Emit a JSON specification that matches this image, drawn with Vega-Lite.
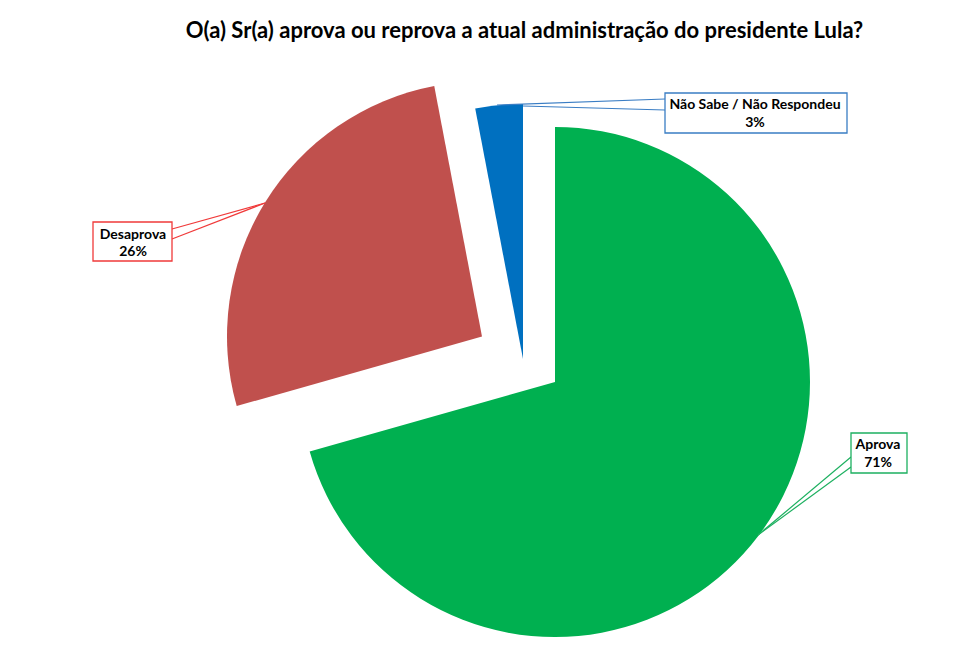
{
  "$schema": "https://vega.github.io/schema/vega-lite/v6.json",
  "width": 977,
  "height": 606,
  "autosize": {"type": "none"},
  "padding": {"top": 60, "left": 0, "right": 0, "bottom": 0},
  "background": "white",
  "config": {"view": {"stroke": null}},
  "title": {
    "text": "O(a) Sr(a) aprova ou reprova a atual administração do presidente Lula?",
    "font": "Lato", "fontSize": 22, "fontWeight": "bold", "color": "#000000",
    "anchor": "middle", "dx": 36, "offset": 17
  },
  "data": {"values": [
    {"answer": "Aprova", "share": 0.706},
    {"answer": "Desaprova", "share": 0.264},
    {"answer": "Não Sabe / Não Respondeu", "share": 0.03}
  ]},
  "transform": [
    {"stack": "share", "groupby": [], "sort": [{"field": "answer", "order": "ascending"}], "as": ["s0", "s1"]}
  ],
  "layer": [
    {
      "transform": [{"filter": "datum.answer == 'Aprova'"}],
      "mark": {"type": "arc", "radius": 255},
      "encoding": {
        "theta": {"field": "s0", "type": "quantitative", "scale": {"domain": [0, 1]}},
        "theta2": {"field": "s1"},
        "color": {"field": "answer", "type": "nominal", "scale": {"domain": ["Aprova", "Desaprova", "Não Sabe / Não Respondeu"], "range": ["#00B050", "#C0504D", "#0070C0"]}, "legend": null},
        "x": {"datum": 0, "type": "quantitative", "scale": {"domain": [-2.17647, 1.6549], "nice": false, "zero": false}, "axis": null},
        "y": {"datum": 0, "type": "quantitative", "scale": {"domain": [-1.11373, 1.26275], "nice": false, "zero": false}, "axis": null}
      }
    },
    {
      "transform": [{"filter": "datum.answer == 'Desaprova'"}],
      "mark": {"type": "arc", "radius": 255},
      "encoding": {
        "theta": {"field": "s0", "type": "quantitative", "scale": {"domain": [0, 1]}},
        "theta2": {"field": "s1"},
        "color": {"field": "answer", "type": "nominal", "legend": null},
        "x": {"datum": -0.28627, "type": "quantitative", "scale": {"domain": [-2.17647, 1.6549], "nice": false, "zero": false}, "axis": null},
        "y": {"datum": 0.17843, "type": "quantitative", "scale": {"domain": [-1.11373, 1.26275], "nice": false, "zero": false}, "axis": null}
      }
    },
    {
      "transform": [{"filter": "datum.answer == 'Não Sabe / Não Respondeu'"}],
      "mark": {"type": "arc", "radius": 255},
      "encoding": {
        "theta": {"field": "s0", "type": "quantitative", "scale": {"domain": [0, 1]}},
        "theta2": {"field": "s1"},
        "color": {"field": "answer", "type": "nominal", "legend": null},
        "x": {"datum": -0.12549, "type": "quantitative", "scale": {"domain": [-2.17647, 1.6549], "nice": false, "zero": false}, "axis": null},
        "y": {"datum": 0.0902, "type": "quantitative", "scale": {"domain": [-1.11373, 1.26275], "nice": false, "zero": false}, "axis": null}
      }
    },
    {
      "transform": [{"filter": "datum.answer == 'Não Sabe / Não Respondeu'"}],
      "mark": {"type": "rule", "color": "#3A7DC4", "strokeWidth": 1.2},
      "encoding": {
        "x": {"datum": 0.43137, "type": "quantitative"},
        "y": {"datum": 1.1098, "type": "quantitative"},
        "x2": {"datum": -0.22745},
        "y2": {"datum": 1.08627}
      }
    },
    {
      "transform": [{"filter": "datum.answer == 'Não Sabe / Não Respondeu'"}],
      "mark": {"type": "rule", "color": "#3A7DC4", "strokeWidth": 1.2},
      "encoding": {
        "x": {"datum": 0.43137, "type": "quantitative"},
        "y": {"datum": 1.06667, "type": "quantitative"},
        "x2": {"datum": -0.12549},
        "y2": {"datum": 1.08235}
      }
    },
    {
      "transform": [{"filter": "datum.answer == 'Desaprova'"}],
      "mark": {"type": "rule", "color": "#F03A3A", "strokeWidth": 1.2},
      "encoding": {
        "x": {"datum": -1.50196, "type": "quantitative"},
        "y": {"datum": 0.6, "type": "quantitative"},
        "x2": {"datum": -1.13725},
        "y2": {"datum": 0.70196}
      }
    },
    {
      "transform": [{"filter": "datum.answer == 'Desaprova'"}],
      "mark": {"type": "rule", "color": "#F03A3A", "strokeWidth": 1.2},
      "encoding": {
        "x": {"datum": -1.50196, "type": "quantitative"},
        "y": {"datum": 0.56078, "type": "quantitative"},
        "x2": {"datum": -1.13725},
        "y2": {"datum": 0.70196}
      }
    },
    {
      "transform": [{"filter": "datum.answer == 'Aprova'"}],
      "mark": {"type": "rule", "color": "#1DB060", "strokeWidth": 1.2},
      "encoding": {
        "x": {"datum": 1.16078, "type": "quantitative"},
        "y": {"datum": -0.29412, "type": "quantitative"},
        "x2": {"datum": 0.79608},
        "y2": {"datum": -0.6}
      }
    },
    {
      "transform": [{"filter": "datum.answer == 'Aprova'"}],
      "mark": {"type": "rule", "color": "#1DB060", "strokeWidth": 1.2},
      "encoding": {
        "x": {"datum": 1.16078, "type": "quantitative"},
        "y": {"datum": -0.33333, "type": "quantitative"},
        "x2": {"datum": 0.79608},
        "y2": {"datum": -0.6}
      }
    },
    {
      "transform": [{"filter": "datum.answer == 'Não Sabe / Não Respondeu'"}],
      "mark": {"type": "rect", "fill": "white", "stroke": "#3A7DC4", "strokeWidth": 1.3},
      "encoding": {
        "x": {"datum": 0.43137, "type": "quantitative"},
        "x2": {"datum": 1.1451},
        "y": {"datum": 1.13333, "type": "quantitative"},
        "y2": {"datum": 0.97647}
      }
    },
    {
      "transform": [{"filter": "datum.answer == 'Desaprova'"}],
      "mark": {"type": "rect", "fill": "white", "stroke": "#F03A3A", "strokeWidth": 1.3},
      "encoding": {
        "x": {"datum": -1.81176, "type": "quantitative"},
        "x2": {"datum": -1.50196},
        "y": {"datum": 0.62745, "type": "quantitative"},
        "y2": {"datum": 0.47451}
      }
    },
    {
      "transform": [{"filter": "datum.answer == 'Aprova'"}],
      "mark": {"type": "rect", "fill": "white", "stroke": "#1DB060", "strokeWidth": 1.3},
      "encoding": {
        "x": {"datum": 1.16078, "type": "quantitative"},
        "x2": {"datum": 1.38039},
        "y": {"datum": -0.2, "type": "quantitative"},
        "y2": {"datum": -0.35686}
      }
    },
    {
      "transform": [{"filter": "datum.answer == 'Não Sabe / Não Respondeu'"}],
      "mark": {"type": "text", "font": "Lato", "fontSize": 14, "fontWeight": "bold", "color": "#000000", "align": "center", "baseline": "middle"},
      "encoding": {
        "text": {"field": "answer", "type": "nominal"},
        "x": {"datum": 0.78431, "type": "quantitative"},
        "y": {"datum": 1.08627, "type": "quantitative"}
      }
    },
    {
      "transform": [{"filter": "datum.answer == 'Não Sabe / Não Respondeu'"}],
      "mark": {"type": "text", "font": "Lato", "fontSize": 14, "fontWeight": "bold", "color": "#000000", "align": "center", "baseline": "middle"},
      "encoding": {
        "text": {"field": "share", "type": "quantitative", "format": ".0%"},
        "x": {"datum": 0.78431, "type": "quantitative"},
        "y": {"datum": 1.01569, "type": "quantitative"}
      }
    },
    {
      "transform": [{"filter": "datum.answer == 'Desaprova'"}],
      "mark": {"type": "text", "font": "Lato", "fontSize": 14, "fontWeight": "bold", "color": "#000000", "align": "center", "baseline": "middle"},
      "encoding": {
        "text": {"field": "answer", "type": "nominal"},
        "x": {"datum": -1.6549, "type": "quantitative"},
        "y": {"datum": 0.57647, "type": "quantitative"}
      }
    },
    {
      "transform": [{"filter": "datum.answer == 'Desaprova'"}],
      "mark": {"type": "text", "font": "Lato", "fontSize": 14, "fontWeight": "bold", "color": "#000000", "align": "center", "baseline": "middle"},
      "encoding": {
        "text": {"field": "share", "type": "quantitative", "format": ".0%"},
        "x": {"datum": -1.6549, "type": "quantitative"},
        "y": {"datum": 0.5098, "type": "quantitative"}
      }
    },
    {
      "transform": [{"filter": "datum.answer == 'Aprova'"}],
      "mark": {"type": "text", "font": "Lato", "fontSize": 14, "fontWeight": "bold", "color": "#000000", "align": "center", "baseline": "middle"},
      "encoding": {
        "text": {"field": "answer", "type": "nominal"},
        "x": {"datum": 1.26667, "type": "quantitative"},
        "y": {"datum": -0.24706, "type": "quantitative"}
      }
    },
    {
      "transform": [{"filter": "datum.answer == 'Aprova'"}],
      "mark": {"type": "text", "font": "Lato", "fontSize": 14, "fontWeight": "bold", "color": "#000000", "align": "center", "baseline": "middle"},
      "encoding": {
        "text": {"field": "share", "type": "quantitative", "format": ".0%"},
        "x": {"datum": 1.26667, "type": "quantitative"},
        "y": {"datum": -0.31765, "type": "quantitative"}
      }
    }
  ]
}
